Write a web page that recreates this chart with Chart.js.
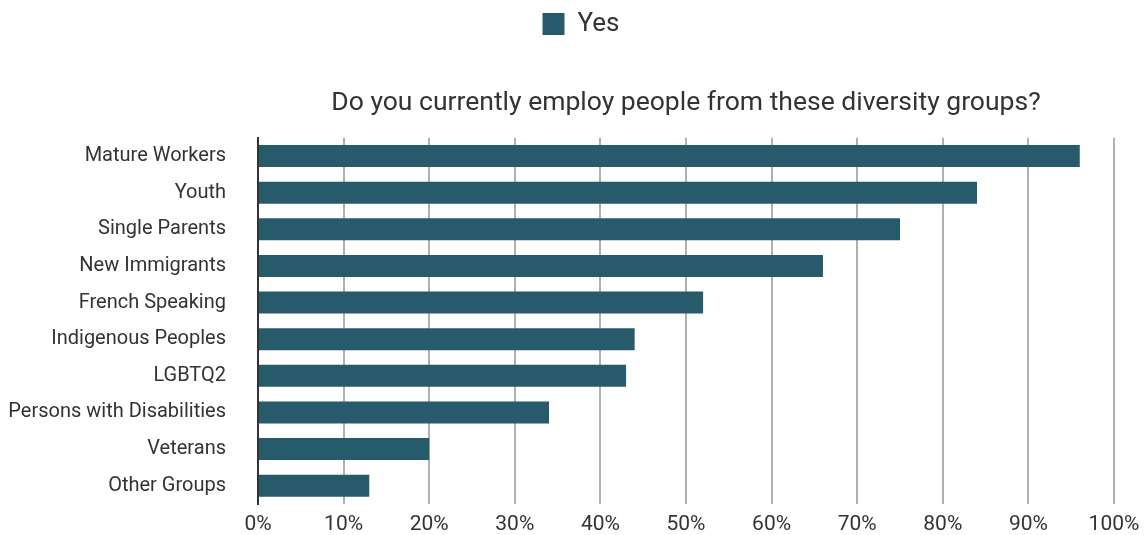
<!DOCTYPE html>
<html>
<head>
<meta charset="utf-8">
<script src="https://cdn.jsdelivr.net/npm/chart.js@4/dist/chart.umd.min.js"></script>
<style>
  html, body { margin: 0; padding: 0; background: #fff; }
</style>
</head>
<body>
<canvas id="groups" width="1145" height="535"></canvas>
<script>
const groups = [
  'Mature Workers',
  'Youth',
  'Single Parents',
  'New Immigrants',
  'French Speaking',
  'Indigenous Peoples',
  'LGBTQ2',
  'Persons with Disabilities',
  'Veterans',
  'Other Groups'
];
const yesShare = [96, 84, 75, 66, 52, 44, 43, 34, 20, 13];

const FONT = 'Roboto, "Noto Sans", sans-serif';
const TEXT = '#333333';

const ctx = document.getElementById('groups');

// let the long category names run into the left margin without being clipped
const widenLabelColumn = {
  id: 'widenLabelColumn',
  afterLayout(chart) {
    chart.scales.y.left = 0;
  }
};

window.myChart = new Chart(ctx, {
  type: 'bar',
  plugins: [widenLabelColumn],
  data: {
    labels: groups,
    datasets: [{
      label: 'Yes',
      data: yesShare,
      backgroundColor: '#275b6b',
      borderWidth: 0,
      barPercentage: 0.6,
      categoryPercentage: 1
    }]
  },
  options: {
    indexAxis: 'y',
    responsive: false,
    animation: false,
    layout: {
      padding: { left: 17, right: 0, top: 3, bottom: 0 }
    },
    plugins: {
      legend: {
        position: 'top',
        weight: 3000,
        labels: {
          boxWidth: 22,
          boxHeight: 22,
          padding: 8,
          color: TEXT,
          font: { family: FONT, size: 26 }
        }
      },
      title: {
        display: true,
        text: 'Do you currently employ people from these diversity groups?',
        fullSize: false,
        weight: 500,
        color: TEXT,
        font: { family: FONT, size: 26.5, weight: 'normal' },
        padding: { top: 40, bottom: 19 }
      },
      tooltip: { enabled: false }
    },
    scales: {
      x: {
        min: 0,
        max: 100,
        // fixed axis band under the plot, 31px gap on the right
        afterFit: s => {
          s.height = 31;
          s.paddingRight = 31;
        },
        ticks: {
          stepSize: 10,
          padding: 8,
          color: TEXT,
          font: { family: FONT, size: 21 },
          callback: v => v + '%'
        },
        grid: {
          color: '#b0b0b0',
          lineWidth: 2,
          drawTicks: false
        },
        border: { display: false }
      },
      y: {
        // plot starts at x = 258
        afterFit: s => {
          s.width = 241;
          s.paddingTop = 0;
          s.paddingBottom = 0;
        },
        ticks: {
          padding: 32,
          color: TEXT,
          font: { family: FONT, size: 20 }
        },
        grid: { display: false, drawTicks: false },
        border: { display: true, color: '#333333', width: 2 }
      }
    }
  }
});
</script>
</body>
</html>
